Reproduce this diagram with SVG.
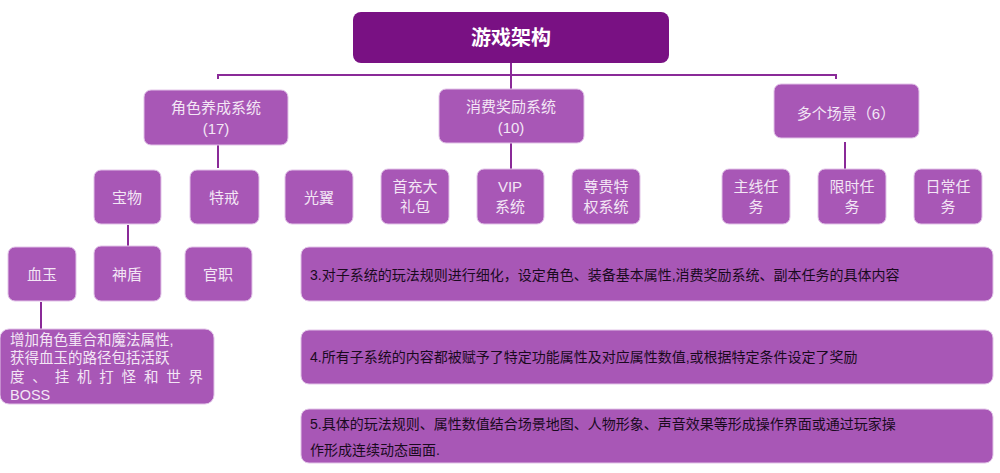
<svg xmlns="http://www.w3.org/2000/svg" width="1000" height="473" viewBox="0 0 1000 473">
<style>
.b{fill:#a857b6;stroke:#e2c4e8;stroke-width:1}
.t{font-family:"Liberation Sans","Noto Sans CJK SC",sans-serif;font-size:15px;fill:#f3e6f5;text-anchor:middle}
.d{font-family:"Liberation Sans","Noto Sans CJK SC",sans-serif;font-size:14px;fill:#1a0a1e}
.c{stroke:#8a2a98;stroke-width:2;fill:none}
</style>
<rect width="1000" height="473" fill="#fff"/>
<g id="connectors">
<path class="c" d="M218 79V75H836V79"/>
<path class="c" d="M511 63V89"/>
<path class="c" d="M218 145V168M511 143V170M845 142V170M128 225V247M41 302V330"/>
</g>
<g id="root"><rect x="353" y="12" width="316" height="51" rx="8" fill="#791183"/><text x="511" y="45" class="t" style="font-size:20px;font-weight:bold;fill:#fff">游戏架构</text></g>
<g id="n1"><rect class="b" x="144" y="90" width="144" height="55" rx="7"/><text x="216" y="113" class="t">角色养成系统</text><text x="216" y="134" class="t">(17)</text></g>
<g id="n2"><rect class="b" x="439" y="89" width="145" height="54" rx="7"/><text x="511" y="112" class="t">消费奖励系统</text><text x="511" y="133" class="t">(10)</text></g>
<g id="n3"><rect class="b" x="774" y="84" width="145" height="54" rx="7"/><text x="846" y="119" class="t">多个场景（6）</text></g>
<g id="n4"><rect class="b" x="94" y="170" width="67" height="54" rx="7"/><text x="127" y="203" class="t">宝物</text></g>
<g id="n5"><rect class="b" x="190" y="170" width="69" height="54" rx="7"/><text x="224" y="203" class="t">特戒</text></g>
<g id="n6"><rect class="b" x="285" y="170" width="68" height="54" rx="7"/><text x="319" y="203" class="t">光翼</text></g>
<g id="n7"><rect class="b" x="381" y="169" width="68" height="55" rx="7"/><text x="415" y="192" class="t">首充大</text><text x="415" y="212" class="t">礼包</text></g>
<g id="n8"><rect class="b" x="477" y="169" width="67" height="55" rx="7"/><text x="510" y="192" class="t">VIP</text><text x="510" y="212" class="t">系统</text></g>
<g id="n9"><rect class="b" x="572" y="169" width="68" height="55" rx="7"/><text x="606" y="192" class="t">尊贵特</text><text x="606" y="212" class="t">权系统</text></g>
<g id="n10"><rect class="b" x="722" y="169" width="68" height="55" rx="7"/><text x="756" y="192" class="t">主线任</text><text x="756" y="212" class="t">务</text></g>
<g id="n11"><rect class="b" x="818" y="169" width="68" height="55" rx="7"/><text x="852" y="192" class="t">限时任</text><text x="852" y="212" class="t">务</text></g>
<g id="n12"><rect class="b" x="914" y="169" width="68" height="55" rx="7"/><text x="948" y="192" class="t">日常任</text><text x="948" y="212" class="t">务</text></g>
<g id="n13"><rect class="b" x="8" y="247" width="68" height="54" rx="7"/><text x="42" y="280" class="t">血玉</text></g>
<g id="n14"><rect class="b" x="94" y="246" width="67" height="55" rx="7"/><text x="127" y="280" class="t">神盾</text></g>
<g id="n15"><rect class="b" x="185" y="247" width="67" height="54" rx="7"/><text x="218" y="280" class="t">官职</text></g>
<g id="n16"><rect class="b" x="0" y="329" width="214" height="75" rx="9"/>
<text class="t" style="text-anchor:start;font-size:14.5px" x="10" y="345">增加角色重合和魔法属性,</text>
<text class="t" style="text-anchor:start;font-size:14.5px" x="10" y="363">获得血玉的路径包括活跃</text>
<text class="t" style="text-anchor:start;font-size:14.5px" x="10" y="382" textLength="193">度、挂机打怪和世界</text>
<text class="t" style="text-anchor:start;font-size:14.5px" x="10" y="400">BOSS</text></g>
<g id="n17"><rect class="b" x="301" y="247" width="692" height="54" rx="8"/><text class="d" x="310" y="280">3.对子系统的玩法规则进行细化，设定角色、装备基本属性,消费奖励系统、副本任务的具体内容</text></g>
<g id="n18"><rect class="b" x="301" y="330" width="692" height="54" rx="8"/><text class="d" x="310" y="362">4.所有子系统的内容都被赋予了特定功能属性及对应属性数值,或根据特定条件设定了奖励</text></g>
<g id="n19"><rect class="b" x="301" y="409" width="692" height="54" rx="8"/><text class="d" x="310" y="429">5.具体的玩法规则、属性数值结合场景地图、人物形象、声音效果等形成操作界面或通过玩家操</text><text class="d" x="310" y="455">作形成连续动态画面.</text></g>
</svg>
